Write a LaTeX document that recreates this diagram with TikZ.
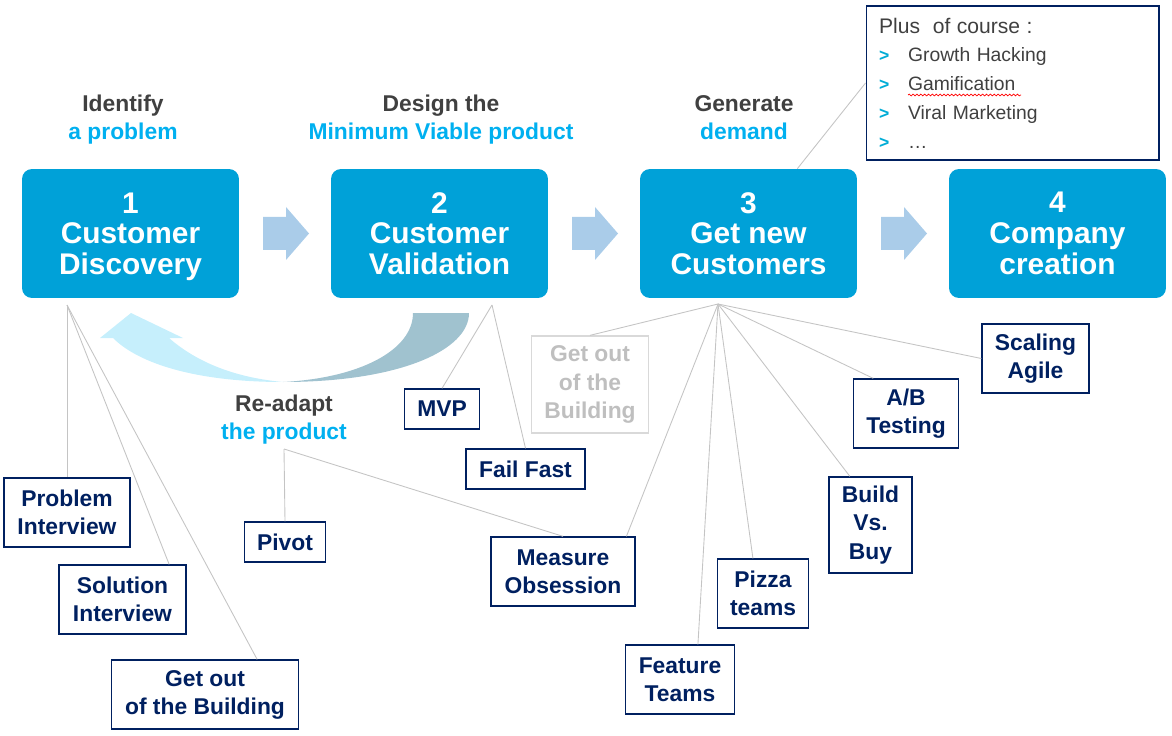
\documentclass[tikz,border=0pt]{standalone}
\usepackage{fontspec}
\setmainfont{Liberation Sans}
\usetikzlibrary{decorations.pathmorphing}
\definecolor{phaseblue}{RGB}{0,161,216}
\definecolor{chevblue}{RGB}{170,204,233}
\definecolor{navy}{RGB}{0,32,96}
\definecolor{cyantext}{RGB}{0,176,240}
\definecolor{labelgray}{RGB}{64,64,64}
\definecolor{linkgray}{RGB}{196,196,196}
\definecolor{fadeline}{RGB}{217,217,217}
\definecolor{fadetext}{RGB}{191,191,191}
\definecolor{bulletcyan}{RGB}{0,172,214}
\definecolor{backlight}{RGB}{198,239,252}
\definecolor{backdark}{RGB}{160,194,207}
\newcommand\plusmark{\makebox[0.58cm][l]{\textcolor{bulletcyan}{\bfseries\fontsize{10}{12}\selectfont >}}}
\begin{document}
\begin{tikzpicture}[x=0.02cm, y=-0.02cm,
  phase/.style={fill=phaseblue, rounded corners=0.2cm, text=white, align=center,
                minimum width=4.34cm, minimum height=2.58cm, inner sep=0pt,
                font=\bfseries\fontsize{17}{17.5}\selectfont},
  goal/.style={text=labelgray, align=center, font=\bfseries\fontsize{13}{16}\selectfont},
  item/.style={draw=navy, line width=0.75pt, text=navy, align=center, inner sep=0pt,
               font=\bfseries\fontsize{13}{16}\selectfont},
  faded/.style={item, draw=fadeline, text=fadetext},
  plusbox/.style={draw=navy, line width=0.6pt, minimum width=5.86cm, minimum height=3.08cm,
                  align=left, text width=5.34cm, inner xsep=0.26cm, inner ysep=0pt,
                  text=labelgray, font=\fontsize{11}{16.4}\selectfont},
  link/.style={draw=linkgray, line width=0.5pt},
  chevron/.style={fill=chevblue}
]
  \useasboundingbox (0,0) rectangle (1172,736);
  % Phases
  \node[phase] (discovery)  at (130.5,233.5)  {1\\Customer\\\raisebox{0pt}[\height][0pt]{Discovery}};
  \node[phase] (validation) at (439.5,233.5)  {2\\Customer\\Validation};
  \node[phase] (customers)  at (748.5,233.5)  {3\\Get new\\Customers};
  \node[phase] (company)    at (1057.5,233.5) {4\\Company\\creation};
  % Flow arrows
  \foreach \x in {263,572,881}
    \fill[chevron] (\x,217) -- ++(23,0) -- ++(0,-10) -- ++(23,26.5)
      -- ++(-23,26.5) -- ++(0,-10) -- ++(-23,0) -- cycle;
  % Goals
  \node[goal] (identify) at (123,120)   {Identify\\\textcolor{cyantext}{a problem}};
  \node[goal] (design)   at (441,120)   {Design the\\\textcolor{cyantext}{Minimum Viable product}};
  \node[goal] (generate) at (744,117.5) {Generate\\\textcolor{cyantext}{demand}};
  \node[goal] (readapt)  at (284,420)   {Re-adapt\\\textcolor{cyantext}{the product}};
  % Re-adapt arrow
  \fill[backlight] (283,382) .. controls (200,382) and (140,365) .. (113,338)
    -- (100,338) -- (131,313) -- (183,338) -- (169,338)
    .. controls (200,365) and (240,378) .. (283,382) -- cycle;
  \fill[backdark] (283,382) .. controls (400,382) and (469,350) .. (469,313)
    -- (413,313) .. controls (413,350) and (360,378) .. (283,382) -- cycle;
  % Plus of course
  \node[plusbox] (extras) at (1012.5,83) {%
    {\fontsize{12}{14}\selectfont Plus\ \ of course :}\\
    \plusmark Growth Hacking\\
    \plusmark Gamification\\
    \plusmark Viral Marketing\\
    \plusmark \dots};
  \draw[red, line width=0.4pt, decorate, decoration={snake, amplitude=0.5pt, segment length=2.2pt}]
    (908,95) -- (1021,95);
  % Practices
  \node[item, minimum width=2.52cm, minimum height=1.38cm] (probint)  at (67,512.5)    {Problem\\Interview};
  \node[item, minimum width=2.54cm, minimum height=1.38cm] (solint)   at (122.5,599.5) {Solution\\Interview};
  \node[item, minimum width=3.75cm, minimum height=1.38cm] (outside)  at (205,694.5)   {Get out\\of the Building};
  \node[item, minimum width=1.49cm, minimum height=0.80cm] (mvp)      at (442,409)     {MVP};
  \node[item, minimum width=2.38cm, minimum height=0.80cm] (failfast) at (525.5,469)   {Fail Fast};
  \node[item, minimum width=1.61cm, minimum height=0.80cm] (pivot)    at (285,542)     {Pivot};
  \node[item, minimum width=2.88cm, minimum height=1.38cm] (measure)  at (563,571.5)   {Measure\\Obsession};
  \node[faded, minimum width=2.35cm, minimum height=1.94cm] (outagain) at (590,384.5)  {Get out\\of the\\Building};
  \node[item, minimum width=2.17cm, minimum height=1.38cm] (feature)  at (680,679.5)   {Feature\\Teams};
  \node[item, minimum width=1.83cm, minimum height=1.38cm] (pizza)    at (763,593.5)   {Pizza\\teams};
  \node[item, minimum width=1.66cm, minimum height=1.92cm] (buildbuy) at (870.5,525)   {Build\\Vs.\\Buy};
  \node[item, minimum width=2.11cm, minimum height=1.38cm] (abtest)   at (906,413.5)   {A/B\\Testing};
  \node[item, minimum width=2.14cm, minimum height=1.38cm] (scaling)  at (1035.5,358.5) {Scaling\\Agile};
  % Hubs
  \coordinate (hubdisc) at (67,305);
  \coordinate (hubval)  at (492,305);
  \coordinate (hubcust) at (718,304);
  \coordinate (hubback) at (284,449);
  % Links
  \draw[link] (customers.53) -- (extras.west);
  \draw[link] (hubdisc) -- (probint.north);
  \draw[link] (hubdisc) -- (solint.37);
  \draw[link] (hubdisc) -- (outside.34);
  \draw[link] (hubval)  -- (mvp.north);
  \draw[link] (hubval)  -- (failfast.north);
  \draw[link] (hubback) -- (pivot.north);
  \draw[link] (hubback) -- (measure.north);
  \draw[link] (hubcust) -- (outagain.north);
  \draw[link] (hubcust) -- (measure.29);
  \draw[link] (hubcust) -- (feature.63);
  \draw[link] (hubcust) -- (pizza.106);
  \draw[link] (hubcust) -- (buildbuy.113);
  \draw[link] (hubcust) -- (abtest.133);
  \draw[link] (hubcust) -- (scaling.west);
\end{tikzpicture}
\end{document}
